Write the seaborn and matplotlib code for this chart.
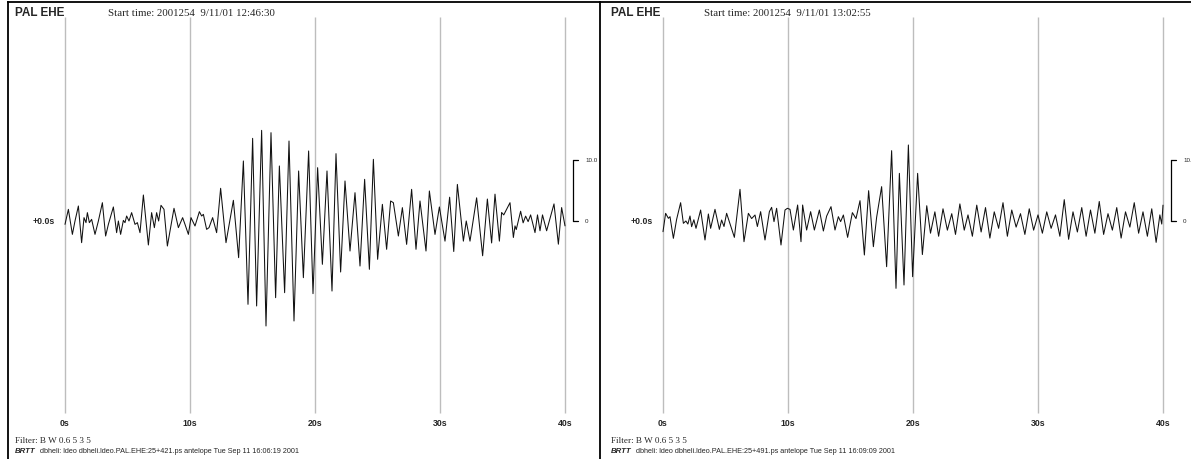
import matplotlib
matplotlib.use('Agg')
import pandas as pd
import matplotlib.pyplot as plt
import seaborn as sns

# figure size in pixels (saved at dpi=100)
W, H = 1191, 460

stations = ['PAL EHE', 'PAL EHE']
start_times = ['Start time: 2001254  9/11/01 12:46:30',
               'Start time: 2001254  9/11/01 13:02:55']
filter_label = 'Filter: B W 0.6 5 3 5'
footer_tag = 'BRTT'
footer_labels = ['dbheli: ldeo dbheli.ldeo.PAL.EHE:25+421.ps antelope Tue Sep 11 16:06:19 2001',
                 'dbheli: ldeo dbheli.ldeo.PAL.EHE:25+491.ps antelope Tue Sep 11 16:09:09 2001']
tick_seconds = [0, 10, 20, 30, 40]
tick_labels = ['0s', '10s', '20s', '30s', '40s']
offset_label = '+0.0s'
scale_values = [0, 10.0]
scale_labels = ['0', '10.0']

# trace 1 (12:46:30) - time in s, amplitude in counts
left_t = [0.0, 0.27, 0.59, 0.8, 1.07, 1.33, 1.52, 1.68, 1.79, 1.95, 2.13, 2.4, 2.67, 2.99,
          3.25, 3.47, 3.87, 4.13, 4.27, 4.45, 4.67, 4.8, 4.93, 5.12, 5.33, 5.6, 5.79, 6.0,
          6.27, 6.67, 6.93, 7.15, 7.33, 7.49, 7.68, 7.92, 8.19, 8.4, 8.72, 9.07, 9.41, 9.6,
          9.87, 10.08, 10.4, 10.75, 10.93, 11.07, 11.33, 11.52, 11.81, 12.13, 12.45,
          12.88, 13.47, 13.89, 14.27, 14.64, 15.01, 15.33, 15.73, 16.08, 16.48, 16.85,
          17.15, 17.57, 17.92, 18.32, 18.69, 19.07, 19.49, 19.84, 20.21, 20.59, 20.96,
          21.36, 21.68, 22.05, 22.4, 22.8, 23.2, 23.6, 23.97, 24.35, 24.67, 25.01, 25.39,
          25.73, 26.05, 26.27, 26.67, 26.99, 27.33, 27.73, 28.08, 28.4, 28.88, 29.15,
          29.6, 29.95, 30.4, 30.77, 31.1, 31.39, 31.87, 32.1, 32.4, 32.93, 33.41, 33.79,
          34.13, 34.4, 34.75, 34.93, 35.1, 35.6, 35.87, 36.0, 36.1, 36.45, 36.65, 36.85,
          37.05, 37.25, 37.6, 37.8, 38.0, 38.2, 38.53, 39.12, 39.47, 39.73, 40.0]
left_amp = [-0.55, 1.91, -2.19, 0.0, 2.46, -3.55, 0.55, -0.27, 1.37, -0.27, 0.27, -2.19, 0.0, 3.0,
            -2.46, -0.55, 2.3, -1.91, 0.0, -2.19, 0.1, -0.27, 0.82, 0.0, 1.37, -0.55, -0.27, -1.91,
            4.26, -3.93, 1.37, -1.09, 1.37, 0.0, 2.57, 1.91, -4.1, -1.64, 2.08, -1.09, 0.55, -0.55,
            -2.19, 0.55, -0.82, 1.53, 0.82, 1.09, -1.37, -1.09, 0.55, -1.91, 5.36,
            -3.55, 3.39, -6.01, 9.84, -13.66, 13.55, -13.93, 14.86, -17.21, 14.48, -12.57,
            9.02, -11.75, 13.11, -16.39, 8.2, -9.29, 11.48, -11.91, 8.74, -7.1, 8.2,
            -11.48, 11.04, -8.36, 6.56, -4.92, 4.64, -7.38, 6.83, -7.92, 10.11, -6.28, 2.73,
            -4.64, 3.28, 3.0, -2.46, 2.19, -3.83, 5.19, -4.64, 3.28, -4.92, 4.92,
            -2.2, 2.3, -3.3, 3.9, -5.0, 6.0, -3.3, 0.0, -3.3, 3.8, -5.7, 3.6,
            -3.6, 4.4, -3.3, 1.4, 1.0, 3.0, -2.7, -0.8, -1.4, 1.6, -0.3, 0.8,
            -0.1, 1.0, -1.9, 1.0, -1.6, 1.0, -1.6, 2.8, -3.8, 2.2, -0.8]

# trace 2 (13:02:55)
right_t = [0.0, 0.21, 0.43, 0.56, 0.83, 1.09, 1.41, 1.63, 1.83, 1.99, 2.16, 2.29, 2.47, 2.64,
           3.01, 3.36, 3.63, 3.81, 4.16, 4.51, 4.69, 4.88, 5.09, 5.71, 6.16, 6.48, 6.83,
           7.09, 7.36, 7.55, 7.81, 8.16, 8.51, 8.69, 8.88, 9.09, 9.44, 9.76, 9.95, 10.16,
           10.43, 10.77, 11.04, 11.17, 11.49, 11.81, 12.11, 12.51, 12.83, 13.09, 13.44,
           13.76, 14.03, 14.21, 14.43, 14.77, 15.15, 15.44, 15.76, 16.11, 16.45, 16.83,
           17.09, 17.49, 17.89, 18.29, 18.64, 18.91, 19.28, 19.63, 19.97, 20.37,
           20.75, 21.1, 21.4, 21.75, 22.05, 22.4, 22.75, 23.1, 23.4, 23.75, 24.1, 24.4,
           24.75, 25.1, 25.45, 25.8, 26.15, 26.5, 26.85, 27.2, 27.55, 27.9, 28.25, 28.6,
           28.95, 29.3, 29.65, 30.0, 30.35, 30.7, 31.05, 31.4, 31.75, 32.1, 32.45, 32.8,
           33.15, 33.5, 33.85, 34.2, 34.55, 34.9, 35.25, 35.6, 35.95, 36.3, 36.65, 37.0,
           37.35, 37.7, 38.05, 38.4, 38.75, 39.1, 39.45, 39.75, 39.9, 40.0]
right_amp = [-1.75, 1.26, 0.44, 0.71, -2.84, 0.27, 3.0, -0.38, 0.0, -0.5, 0.82, -0.93, 0.2, -1.2,
             1.8, -3.11, 1.15, -1.2, 1.91, -1.37, 0.16, -0.9, 1.26, -2.68, 5.19, -3.39, 1.26,
             0.4, 0.98, -0.9, 1.53, -3.11, 1.53, 2.24, -0.1, 2.08, -3.93, 1.8, 2.08, 1.91,
             -1.48, 2.62, -3.39, 2.62, -1.48, 1.53, -1.48, 1.8, -1.64, 0.8, 2.35,
             -1.48, 0.71, -0.1, 0.98, -2.68, 1.37, 0.4, 3.33, -5.57, 4.97, -4.21,
             0.6, 5.63, -7.49, 11.53, -11.04, 7.81, -10.49, 12.46, -9.13, 7.81,
             -5.5, 2.5, -2.0, 1.5, -2.5, 2.0, -1.5, 1.2, -2.2, 2.8, -1.5, 1.0,
             -2.5, 2.6, -1.8, 2.2, -2.8, 1.5, -1.2, 3.0, -2.5, 1.8, -1.0, 1.2,
             -2.2, 2.0, -1.5, 1.0, -2.0, 1.5, -1.2, 1.0, -2.5, 3.5, -3.0, 1.5,
             -1.8, 2.2, -2.5, 1.8, -2.0, 3.2, -2.2, 1.2, -1.5, 2.2, -2.8, 1.5,
             -1.0, 3.0, -2.0, 1.5, -2.5, 2.0, -3.5, 1.0, -0.5, 2.6]

PX_PER_S = 12.5
PX_PER_COUNT = 6.1
TOP_PX = 3


def draw_panel(fig, frame_x0, frame_x1, t0_px, base_px, t, amp, idx, text_x0):
    ax = fig.add_axes([frame_x0 / W, 0, (frame_x1 - frame_x0) / W, (H - TOP_PX) / H])
    ax.set_xlim((frame_x0 - t0_px) / PX_PER_S, (frame_x1 - t0_px) / PX_PER_S)
    ax.set_ylim((base_px - H) / PX_PER_COUNT, (base_px - TOP_PX) / PX_PER_COUNT)
    ax.set_xticks([])
    ax.set_yticks([])
    for side in ['right', 'bottom']:
        ax.spines[side].set_visible(False)
    for side in ['left', 'top']:
        ax.spines[side].set_color('black')
        ax.spines[side].set_linewidth(1.3)

    def px(x, y):
        return (x - t0_px) / PX_PER_S, (base_px - y) / PX_PER_COUNT

    # time grid
    _, y_top = px(0, 18)
    _, y_bot = px(0, 414)
    ax.vlines(tick_seconds, y_bot, y_top, color='#bdbdbd', lw=1.0, zorder=1)
    for s, lab in zip(tick_seconds, tick_labels):
        ax.text(s, px(0, 424)[1], lab, ha='center', va='center', fontsize=6.3,
                fontweight='bold', family='Liberation Sans')

    df = pd.DataFrame({'t': t, 'amp': amp})
    sns.lineplot(data=df, x='t', y='amp', ax=ax, color='#111111', lw=0.75,
                 estimator=None, sort=False, zorder=3)
    ax.set_xlabel('')
    ax.set_ylabel('')

    ax.text(px(t0_px - 10, 0)[0], 0, offset_label, ha='right', va='center', fontsize=6.3,
            fontweight='bold', family='Liberation Sans')

    # amplitude scale bar
    sx = px(t0_px + 508, 0)[0]
    tick_len = 5 / PX_PER_S
    ax.plot([sx, sx], scale_values, color='black', lw=0.9, clip_on=False)
    for v, lab in zip(scale_values, scale_labels):
        ax.plot([sx, sx + tick_len], [v, v], color='black', lw=0.9, clip_on=False)
        ax.text(sx + 12 / PX_PER_S, v, lab, ha='left', va='center', fontsize=4.5,
                family='Liberation Sans', clip_on=False)

    # header and footer
    ax.text(*px(text_x0, 13), stations[idx], ha='left', va='center', fontsize=8.5,
            fontweight='bold', family='Liberation Sans')
    ax.text(*px(text_x0 + 93, 13), start_times[idx], ha='left', va='center', fontsize=7.8,
            family='Liberation Serif')
    ax.text(*px(text_x0, 441), filter_label, ha='left', va='center', fontsize=6.6,
            family='Liberation Serif')
    ax.text(*px(text_x0, 452), footer_tag, ha='left', va='center', fontsize=5.6,
            fontweight='bold', fontstyle='italic', family='Liberation Sans')
    ax.text(*px(text_x0 + 25, 452), footer_labels[idx], ha='left', va='center', fontsize=5.2,
            family='Liberation Sans')
    return ax


sns.set_theme(style='white')
plt.rcParams['font.family'] = ['Liberation Sans', 'DejaVu Sans']

fig = plt.figure(figsize=(W / 100, H / 100), dpi=100)
fig.patch.set_facecolor('white')
draw_panel(fig, 8, 600, 65, 222, left_t, left_amp, 0, 15)
draw_panel(fig, 600, W, 663, 222, right_t, right_amp, 1, 611)

fig.savefig('out.png', dpi=100, facecolor='white')
